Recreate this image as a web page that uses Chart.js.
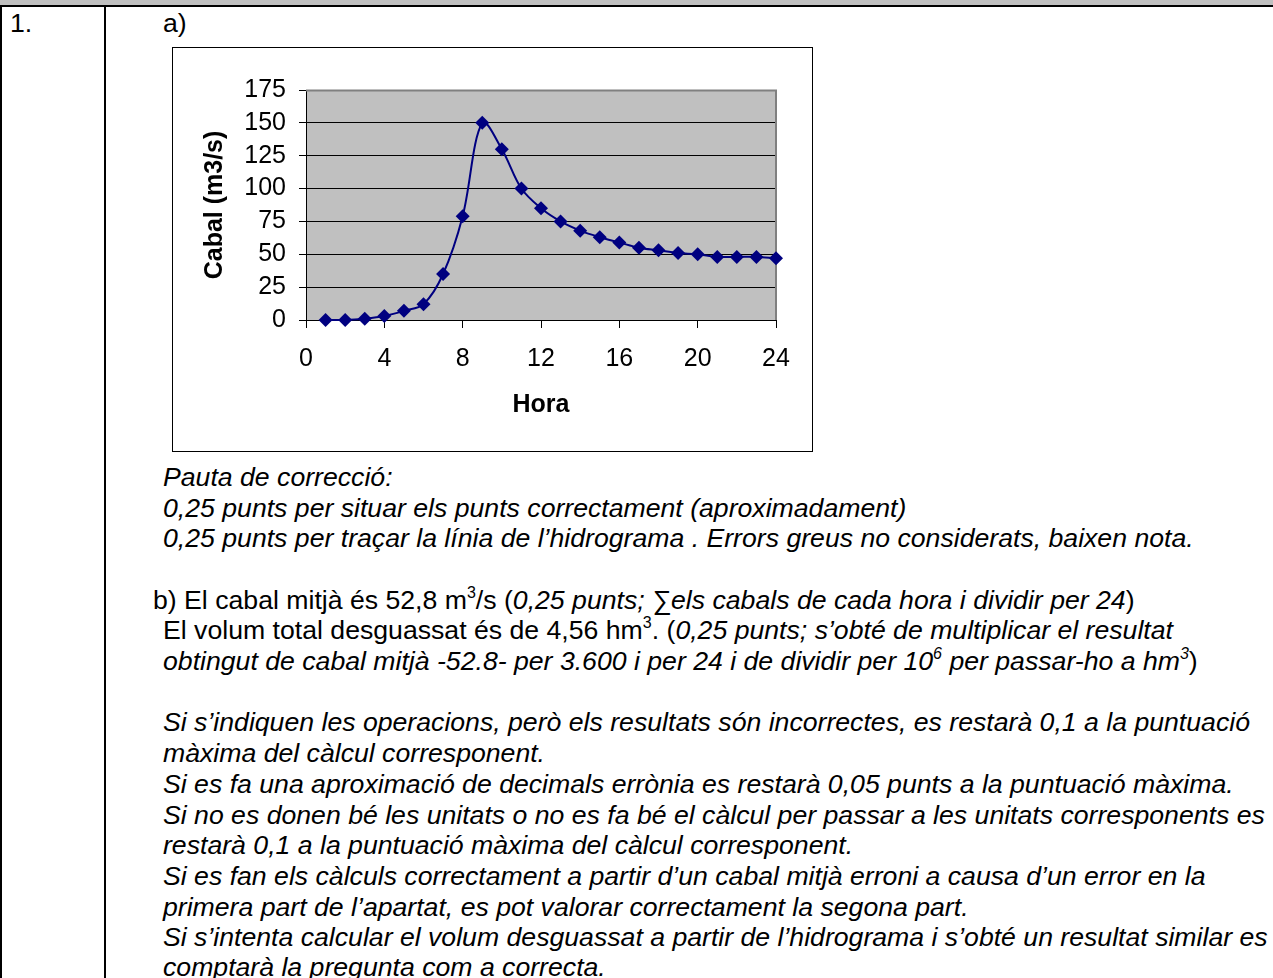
<!DOCTYPE html>
<html>
<head>
<meta charset="utf-8">
<script src="https://cdn.jsdelivr.net/npm/chart.js@4"></script>
<style>
  html, body { margin:0; padding:0; background:#fff; }
  body { width:1273px; height:978px; position:relative; overflow:hidden; font-family:"Liberation Sans", Arial, sans-serif; color:#000; }
  .bar { position:absolute; left:0; top:0; width:1273px; height:5px; background:#c0c0c0; }
  .hline { position:absolute; left:0; top:5px; width:1273px; height:2px; background:#000; }
  .vline { position:absolute; top:7px; height:971px; background:#000; }
  .t { position:absolute; font-size:26.65px; line-height:30px; white-space:nowrap; }
  .i { font-style:italic; }
  .sup { font-size:16px; vertical-align:11px; line-height:0; }
  #box { position:absolute; left:172px; top:47px; width:639px; height:403px; border:1px solid #000; background:#fff; }
  #box canvas { display:block; }
</style>
</head>
<body>
<div class="bar"></div>
<div class="hline"></div>
<div class="vline" style="left:0px;width:2px;"></div>
<div class="vline" style="left:104px;width:2px;"></div>

<div class="t" style="left:10px;top:8px;">1.</div>
<div class="t" style="left:163px;top:8px;">a)</div>

<div id="box"><canvas id="c" width="639" height="403"></canvas></div>

<div class="t i" style="left:163px;top:462px;">Pauta de correcció:</div>
<div class="t i" style="left:163px;top:493px;">0,25 punts per situar els punts correctament (aproximadament)</div>
<div class="t i" style="left:163px;top:523px;">0,25 punts per traçar la línia de l’hidrograma . Errors greus no considerats, baixen nota.</div>

<div class="t" style="left:153px;top:585px;">b) El cabal mitjà és 52,8 m<span class="sup">3</span>/s (<span class="i">0,25 punts; ∑els cabals de cada hora i dividir per 24</span>)</div>
<div class="t" style="left:163px;top:615px;">El volum total desguassat és de 4,56 hm<span class="sup">3</span>. (<span class="i">0,25 punts; s’obté de multiplicar el resultat</span></div>
<div class="t" style="left:163px;top:646px;"><span class="i">obtingut de cabal mitjà -52.8- per 3.600 i per 24 i de dividir per 10<span class="sup">6</span> per passar-ho a hm<span class="sup">3</span></span>)</div>

<div class="t i" style="left:163px;top:707px;">Si s’indiquen les operacions, però els resultats són incorrectes, es restarà 0,1 a la puntuació</div>
<div class="t i" style="left:163px;top:738px;">màxima del càlcul corresponent.</div>
<div class="t i" style="left:163px;top:769px;">Si es fa una aproximació de decimals errònia es restarà 0,05 punts a la puntuació màxima.</div>
<div class="t i" style="left:163px;top:800px;">Si no es donen bé les unitats o no es fa bé el càlcul per passar a les unitats corresponents es</div>
<div class="t i" style="left:163px;top:830px;">restarà 0,1 a la puntuació màxima del càlcul corresponent.</div>
<div class="t i" style="left:163px;top:861px;">Si es fan els càlculs correctament a partir d’un cabal mitjà erroni a causa d’un error en la</div>
<div class="t i" style="left:163px;top:892px;">primera part de l’apartat, es pot valorar correctament la segona part.</div>
<div class="t i" style="left:163px;top:922px;">Si s’intenta calcular el volum desguassat a partir de l’hidrograma i s’obté un resultat similar es</div>
<div class="t i" style="left:163px;top:952px;">comptarà la pregunta com a correcta.</div>

<script>
const hours = [1,2,3,4,5,6,7,8,9,10,11,12,13,14,15,16,17,18,19,20,21,22,23,24];
const cabal = [0,0,1,3,7,12,35,79,150,130,100,85,75,68,63,59,55,53,51,50,48,48,48,47];
const xTicks = [0,4,8,12,16,20,24];
const yTicks = [0,25,50,75,100,125,150,175];
const seriesName = 'Cabal (m3/s)';
const xTitle = 'Hora';
const yTitle = 'Cabal (m3/s)';

const FONT = '"Liberation Sans", Arial, sans-serif';

const plotBg = {
  id: 'plotBg',
  beforeDraw(chart) {
    const {ctx, chartArea:a} = chart;
    ctx.save();
    ctx.fillStyle = '#c0c0c0';
    ctx.fillRect(a.left, a.top, a.right - a.left, a.bottom - a.top);
    ctx.restore();
  },
  beforeDatasetsDraw(chart) {
    const {ctx, chartArea:a} = chart;
    ctx.save();
    ctx.strokeStyle = '#808080';
    ctx.lineWidth = 2;
    ctx.beginPath();
    ctx.moveTo(a.left, a.top + 0.5);
    ctx.lineTo(a.right, a.top + 0.5);
    ctx.lineTo(a.right, a.bottom);
    ctx.stroke();
    ctx.restore();
  }
};

new Chart(document.getElementById('c'), {
  type: 'line',
  data: {
    datasets: [{
      label: seriesName,
      data: hours.map((h, i) => ({x: h, y: cabal[i]})),
      borderColor: '#000080',
      backgroundColor: '#000080',
      borderWidth: 2,
      pointStyle: 'rectRot',
      pointRadius: 7,
      pointBorderWidth: 0,
      tension: 0.35,
      clip: false,
      fill: false
    }]
  },
  options: {
    responsive: false,
    animation: false,
    events: [],
    layout: { padding: { top: 42, right: 36, left: 0, bottom: 0 } },
    plugins: { legend: { display: false }, tooltip: { enabled: false } },
    scales: {
      x: {
        type: 'linear',
        min: 0, max: 24,
        afterBuildTicks(s) { s.ticks = xTicks.map(v => ({value: v})); },
        afterFit(s) { s.height = 131; },
        ticks: { color: '#000', font: { family: FONT, size: 25 }, padding: 16, maxRotation: 0, autoSkip: false },
        grid: { drawOnChartArea: false, drawTicks: true, tickLength: 8, color: '#000', tickColor: '#000' },
        border: { color: '#000', width: 1 },
        title: { display: true, text: xTitle, color: '#000', font: { family: FONT, size: 25, weight: 'bold' }, padding: { top: 0, bottom: 31 } }
      },
      y: {
        min: 0, max: 175,
        afterBuildTicks(s) { s.ticks = yTicks.map(v => ({value: v})); },
        afterFit(s) { s.width = 133; },
        ticks: { color: '#000', font: { family: FONT, size: 25 }, padding: 13, autoSkip: false },
        grid: {
          color: ctx => (ctx.tick && ctx.tick.value === 175) ? '#808080' : '#000',
          tickColor: '#000',
          tickLength: 7,
          lineWidth: 1
        },
        border: { color: '#000', width: 1 },
        title: { display: true, text: yTitle, color: '#000', font: { family: FONT, size: 25, weight: 'bold' }, padding: { top: 27, bottom: 0 } }
      }
    }
  },
  plugins: [plotBg]
});
</script>
</body>
</html>
